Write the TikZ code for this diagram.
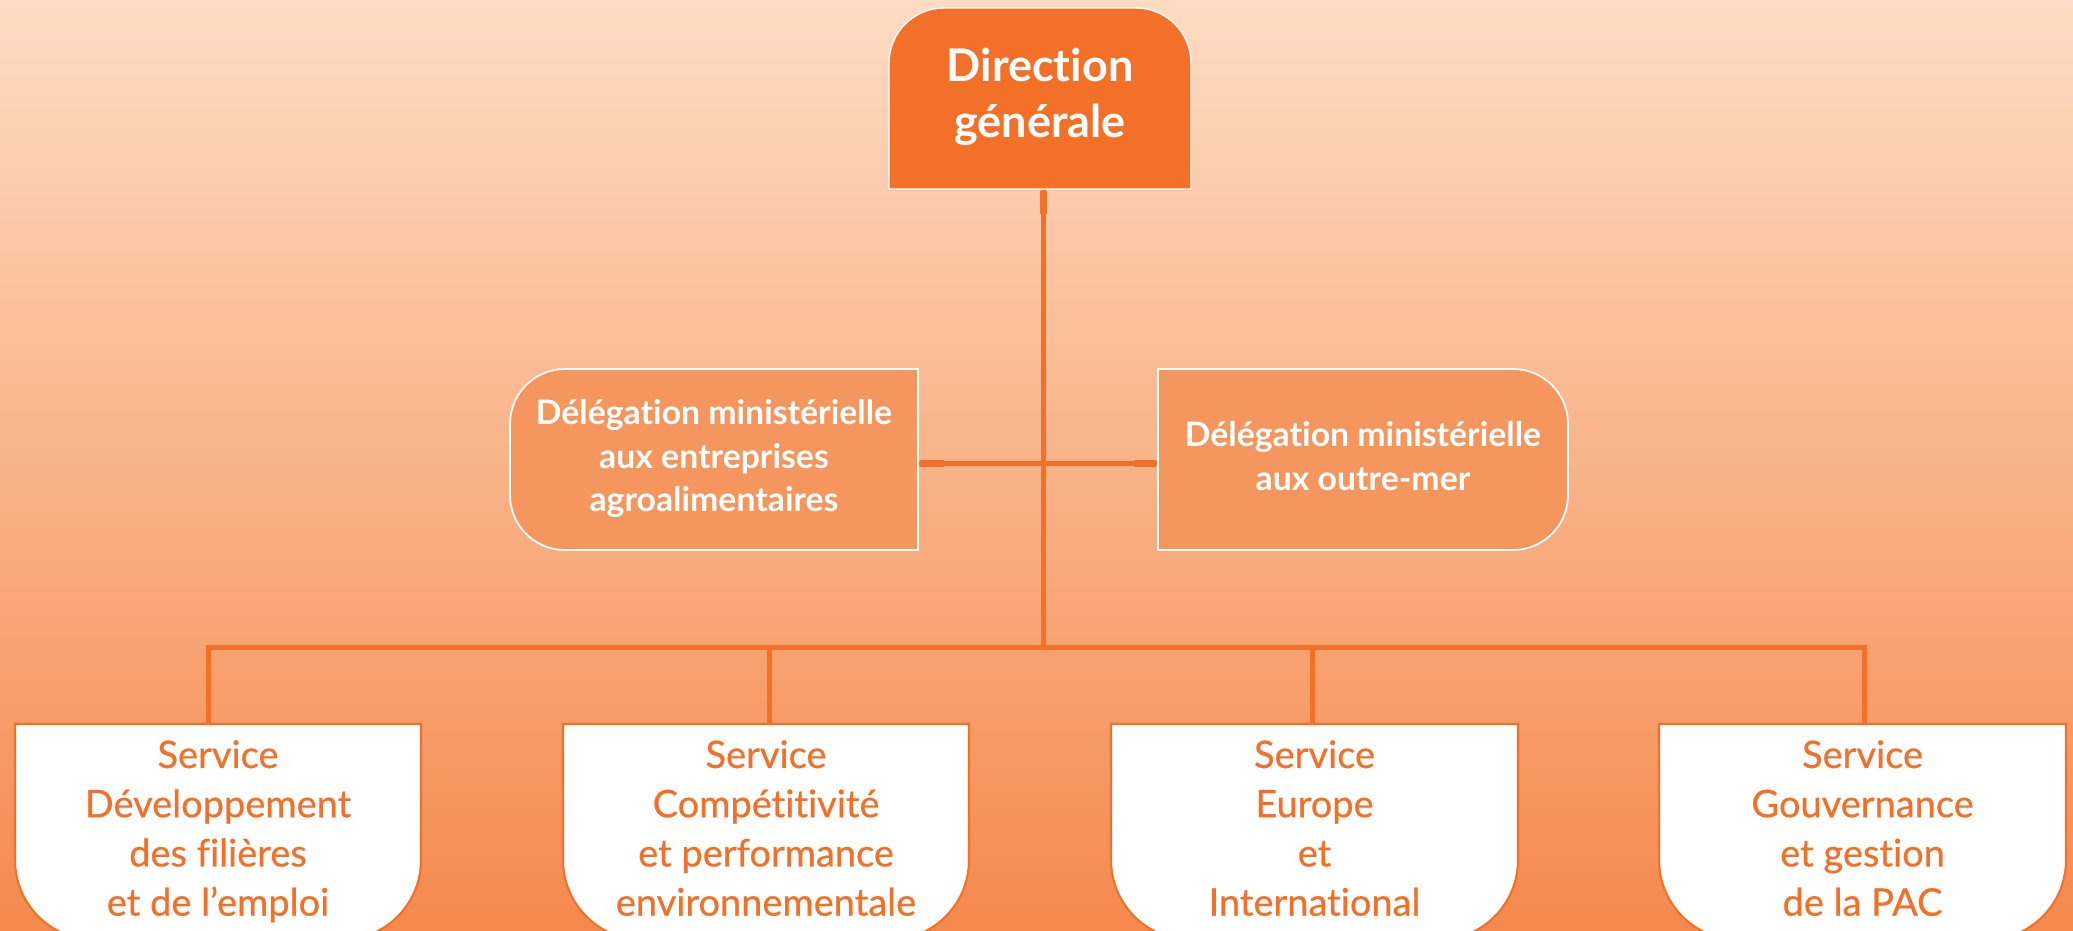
\documentclass[tikz,border=0pt]{standalone}
\usepackage{fontspec}
\setmainfont{Lato}[Ligatures=NoCommon]
\newfontfamily\svcfont{Lato}[Ligatures=NoCommon, FakeBold=0.5]
\usetikzlibrary{calc}
\definecolor{orng}{RGB}{243,112,41}
\definecolor{delg}{RGB}{245,150,95}
\definecolor{bgtop}{RGB}{253,220,195}
\definecolor{bgbot}{RGB}{245,137,77}
\newcommand\mybotbox[2]{%
  \draw[fill=white, draw=orng, line width=0.6pt]
    (#1,724) -- (#2,724) -- (#2,860)
    .. controls (#2,904.2) and (#2-35.8,940) .. (#2-80,940)
    -- (#1+80,940)
    .. controls (#1+35.8,940) and (#1,904.2) .. (#1,860) -- cycle;}
\begin{document}
\begin{tikzpicture}[x=0.01cm,y=-0.01cm,
  box/.style={inner sep=0pt, align=center, anchor=center},
  topbox/.style={box, minimum width=3.02cm, minimum height=1.81cm, text=white,
    font=\bfseries\fontsize{12.8}{16}\selectfont},
  delbox/.style={box, minimum width=4.08cm, minimum height=1.81cm, text=white,
    font=\bfseries\fontsize{9.6}{12.4}\selectfont},
  svcbox/.style={box, minimum width=4.06cm, minimum height=2.16cm, text=orng,
    font=\svcfont\fontsize{10.8}{14}\selectfont},
  conn/.style={draw=orng, line width=0.05cm},
  connstub/.style={draw=orng, line width=0.07cm}
]
\useasboundingbox (0,0) rectangle (2073,931);
\shade[top color=bgtop, bottom color=bgbot] (0,0) rectangle (2073,931);

% top box shape
\draw[fill=orng, draw=white, line width=0.4pt]
  (889,189) -- (889,63) .. controls (889,32.6) and (913.6,8) .. (944,8)
  -- (1136,8) .. controls (1166.4,8) and (1191,32.6) .. (1191,63)
  -- (1191,189) -- cycle;
% left delegation shape
\draw[fill=delg, draw=white, line width=0.5pt]
  (918,369) -- (565,369) .. controls (534.6,369) and (510,393.6) .. (510,424)
  -- (510,495) .. controls (510,525.4) and (534.6,550) .. (565,550)
  -- (918,550) -- cycle;
% right delegation shape
\draw[fill=delg, draw=white, line width=0.5pt]
  (1158,369) -- (1513,369) .. controls (1543.4,369) and (1568,393.6) .. (1568,424)
  -- (1568,495) .. controls (1568,525.4) and (1543.4,550) .. (1513,550)
  -- (1158,550) -- cycle;
% service boxes
\mybotbox{15}{421}
\mybotbox{563}{969}
\mybotbox{1111}{1518}
\mybotbox{1659}{2066}

% nodes
\node[topbox] (dg) at (1040,98.5) {\strut Direction\\ générale\strut};
\node[delbox] (dl) at (714,459.5) {\strut Délégation ministérielle\\ aux entreprises\\ agroalimentaires\strut};
\node[delbox, minimum width=4.10cm] (dr) at (1363,459.5) {\strut Délégation ministérielle\\ aux outre-mer\strut};
\node[svcbox] (s1) at (218,832) {\strut Service\\ Développement\\ des filières\\ et de l’emploi\strut};
\node[svcbox] (s2) at (766,832) {\strut Service\\ Compétitivité\\ et performance\\ environnementale\strut};
\node[svcbox] (s3) at (1314.5,832) {\strut Service\\ Europe\\ et\\ International\strut};
\node[svcbox] (s4) at (1862.5,832) {\strut Service\\ Gouvernance\\ et gestion\\ de la PAC\strut};

% connectors
\coordinate (top) at ($(dg.south)+(3.5,0)$);
\coordinate (hub) at (1043.5,647.5);
\coordinate (d1) at ($(s1.north)+(-10,0)$);
\coordinate (d2) at ($(s2.north)+(3,0)$);
\coordinate (d3) at ($(s3.north)+(-2.5,0)$);
\coordinate (d4) at ($(s4.north)+(1.5,0)$);
\draw[conn] (top) -- (top |- hub);
\draw[connstub] ($(top)+(0,1)$) -- ($(top)+(0,24)$);
\draw[conn, line join=miter] (d1) -- (d1 |- hub) -- (d4 |- hub) -- (d4);
\draw[conn] (d2) -- (d2 |- hub);
\draw[conn] (d3) -- (d3 |- hub);
\coordinate (le) at ($(dl.east)+(0,4.5)$);
\coordinate (re) at ($(dr.west)+(0,4.5)$);
\draw[conn] (le) -- (re);
\draw[connstub] ($(le)+(1,0)$) -- ($(le)+(25,0)$);
\draw[connstub] ($(re)+(-1,0)$) -- ($(re)+(-23,0)$);
\end{tikzpicture}
\end{document}
